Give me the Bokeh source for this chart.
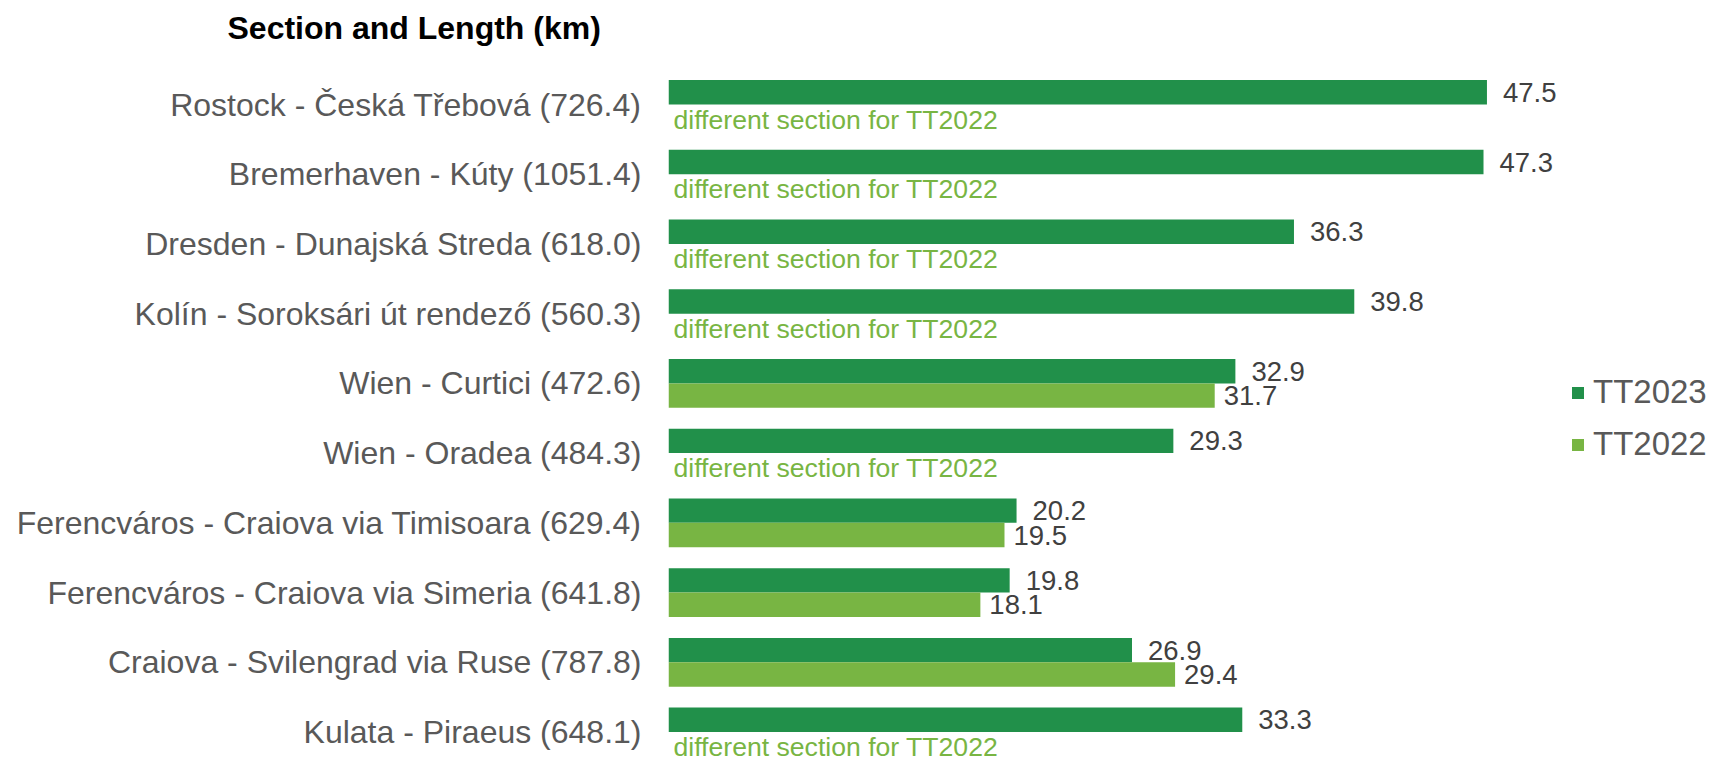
from bokeh.plotting import figure
from bokeh.models import ColumnDataSource, Range1d, FixedTicker, Legend, LegendItem, Title
from bokeh.core.properties import value
from bokeh.embed import file_html
from bokeh.resources import INLINE

sections = [
    "Rostock - Česká Třebová (726.4)",
    "Bremerhaven - Kúty (1051.4)",
    "Dresden - Dunajská Streda (618.0)",
    "Kolín - Soroksári út rendező (560.3)",
    "Wien - Curtici (472.6)",
    "Wien - Oradea (484.3)",
    "Ferencváros - Craiova via Timisoara (629.4)",
    "Ferencváros - Craiova via Simeria (641.8)",
    "Craiova - Svilengrad via Ruse (787.8)",
    "Kulata - Piraeus (648.1)",
]
tt2023 = [47.5, 47.3, 36.3, 39.8, 32.9, 29.3, 20.2, 19.8, 26.9, 33.3]
tt2022 = [None, None, None, None, 31.7, None, 19.5, 18.1, 29.4, None]
series_names = ["TT2023", "TT2022"]
note_text = "different section for TT2022"
title_text = "Section and Length (km)"

DARK = "#21904A"
LIGHT = "#78B543"
GRAY = "#595959"
VAL = "#404040"
FONT = "Liberation Sans"

idx = list(range(len(sections)))
BH = 0.35

dark_src = ColumnDataSource(dict(
    y=[i - BH / 2 for i in idx], v=tt2023,
    lab=[f"{v:.1f}" for v in tt2023]))
l_idx = [i for i in idx if tt2022[i] is not None]
light_src = ColumnDataSource(dict(
    y=[i + BH / 2 for i in l_idx], v=[tt2022[i] for i in l_idx],
    lab=[f"{tt2022[i]:.1f}" for i in l_idx]))
n_idx = [i for i in idx if tt2022[i] is None]
note_src = ColumnDataSource(dict(
    y=[i + BH / 2 for i in n_idx], x=[0] * len(n_idx), t=[note_text] * len(n_idx)))

W, H = 1717, 761
p = figure(width=W, height=H, output_backend="svg", toolbar_location=None,
           x_range=Range1d(0, 60.88),
           y_range=Range1d(9 + 0.423, -0.7745),
           min_border_left=668, min_border_right=0, min_border_top=50,
           min_border_bottom=0, x_axis_location=None)
p.outline_line_color = None
p.grid.visible = False
p.background_fill_color = "white"
p.border_fill_color = "white"

r1 = p.hbar(y="y", right="v", left=0, height=BH, source=dark_src, color=DARK, line_color=None)
r2 = p.hbar(y="y", right="v", left=0, height=BH, source=light_src, color=LIGHT, line_color=None)

p.text(x="v", y="y", text="lab", source=dark_src, x_offset=16, text_baseline="middle",
       text_align="left", text_font=value(FONT), text_font_size="27.5px", text_color=VAL)
p.text(x="v", y="y", text="lab", source=light_src, x_offset=9, text_baseline="middle",
       text_align="left", text_font=value(FONT), text_font_size="27.5px", text_color=VAL)
p.text(x="x", y="y", text="t", source=note_src, x_offset=5, y_offset=3, text_baseline="middle",
       text_align="left", text_font=value(FONT), text_font_size="26.6px", text_color=LIGHT)

ax = p.yaxis[0]
ax.ticker = FixedTicker(ticks=idx)
ax.major_label_overrides = {i: s for i, s in zip(idx, sections)}
ax.axis_line_color = None
ax.major_tick_line_color = None
ax.minor_tick_line_color = None
ax.major_tick_out = 0
ax.major_label_standoff = 27
ax.major_label_text_font = FONT
ax.major_label_text_font_size = "32px"
ax.major_label_text_color = GRAY

p.title = Title(text=title_text, align="left", offset=-441, standoff=10, text_font=FONT,
                text_font_size="32px", text_font_style="bold", text_color="black")

legend = Legend(items=[LegendItem(label=series_names[0], renderers=[r1]),
                       LegendItem(label=series_names[1], renderers=[r2])],
                location=(902, 298), glyph_width=15, glyph_height=15,
                label_height=36, spacing=14, padding=0, margin=0,
                label_standoff=8, label_text_font=FONT, label_text_font_size="33px",
                label_text_color=GRAY, border_line_color=None,
                background_fill_alpha=0)
p.add_layout(legend)

open("out.html", "w").write(file_html(p, INLINE))
